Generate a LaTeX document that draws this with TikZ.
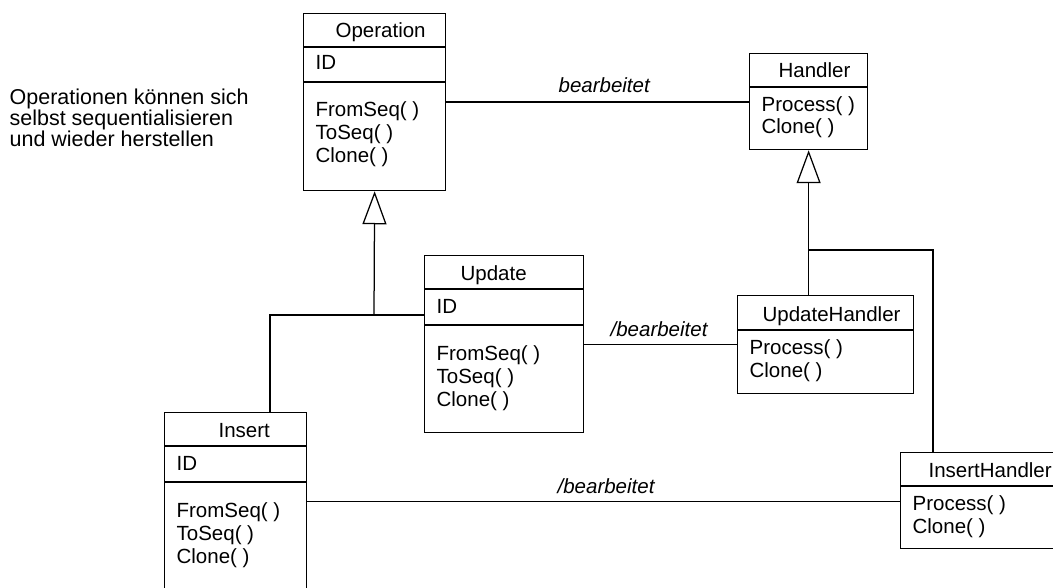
\documentclass[tikz,border=0pt]{standalone}
\usepackage{fontspec}
\setmainfont{Liberation Sans}
\usetikzlibrary{arrows.meta}

\begin{document}
\begin{tikzpicture}[x=1pt,y=-1pt,
  line width=1.25pt,
  cls/.style={draw, anchor=north west, inner sep=0pt},
  txt/.style={anchor=base west, inner sep=0pt, font=\fontsize{20.5}{23}\selectfont},
  note/.style={anchor=base west, inner sep=0pt, font=\fontsize{21.5}{23}\selectfont},
  lbl/.style={txt, font=\fontsize{20.5}{23}\selectfont\itshape},
  gen/.style={-{Triangle[open, length=33pt, width=24pt]}},
]
\useasboundingbox (0,0) rectangle (1053,588);
\clip (0,0) rectangle (1053,588);

% note
\node[note] (n1) at (9,105) {Operationen können sich};
\node[note] (n2) at (9,126) {selbst sequentialisieren};
\node[note] (n3) at (9,147) {und wieder herstellen};

% Operation
\node[cls, minimum width=142pt, minimum height=177pt] (op) at (303,13) {};
\draw (op.west |- 0,47) -- (op.east |- 0,47);
\draw (op.west |- 0,82) -- (op.east |- 0,82);
\node[txt] (op-t) at (335,38) {Operation};
\node[txt] (op-a) at (315,70) {ID};
\node[txt] (op-m1) at (315,117) {FromSeq( )};
\node[txt] (op-m2) at (315,140) {ToSeq( )};
\node[txt] (op-m3) at (315,163) {Clone( )};

% Handler
\node[cls, minimum width=118pt, minimum height=96pt] (hd) at (749,53) {};
\draw (hd.west |- 0,87) -- (hd.east |- 0,87);
\node[txt] (hd-t) at (778,78) {Handler};
\node[txt] (hd-m1) at (761,112) {Process( )};
\node[txt] (hd-m2) at (761,134) {Clone( )};

% Update
\node[cls, minimum width=159pt, minimum height=177pt] (up) at (424,255) {};
\draw (up.west |- 0,289) -- (up.east |- 0,289);
\draw (up.west |- 0,325) -- (up.east |- 0,325);
\node[txt] (up-t) at (460,281) {Update};
\node[txt] (up-a) at (436,313) {ID};
\node[txt] (up-m1) at (436,360) {FromSeq( )};
\node[txt] (up-m2) at (436,383) {ToSeq( )};
\node[txt] (up-m3) at (436,406) {Clone( )};

% Insert
\node[cls, minimum width=142pt, minimum height=178pt] (in) at (164,412) {};
\draw (in.west |- 0,446) -- (in.east |- 0,446);
\draw (in.west |- 0,482) -- (in.east |- 0,482);
\node[txt] (in-t) at (218,437) {Insert};
\node[txt] (in-a) at (176,470) {ID};
\node[txt] (in-m1) at (176,517) {FromSeq( )};
\node[txt] (in-m2) at (176,540) {ToSeq( )};
\node[txt] (in-m3) at (176,563) {Clone( )};

% UpdateHandler
\node[cls, minimum width=176pt, minimum height=98pt] (uh) at (737,295) {};
\draw (uh.west |- 0,330) -- (uh.east |- 0,330);
\node[txt] (uh-t) at (762,322) {UpdateHandler};
\node[txt] (uh-m1) at (749,355) {Process( )};
\node[txt] (uh-m2) at (749,377) {Clone( )};

% InsertHandler
\node[cls, minimum width=170pt, minimum height=96pt] (ih) at (900,452) {};
\draw (ih.west |- 0,486) -- (ih.east |- 0,486);
\node[txt] (ih-t) at (928,477) {InsertHandler};
\node[txt] (ih-m1) at (912,510) {Process( )};
\node[txt] (ih-m2) at (912,533) {Clone( )};

% associations
\draw (op.east) -- (op.east -| hd.west);
\node[lbl] (a1) at (558,93) {bearbeitet};
\draw (up.east) -- (up.east -| uh.west);
\node[lbl] (a2) at (610,337) {/bearbeitet};
\draw (in.east) -- (in.east -| ih.west);
\node[lbl] (a3) at (557,493) {/bearbeitet};

% generalisation: Operation
\coordinate (g1) at (374,315);
\coordinate (g1l) at (270,315);
\draw[gen] (g1) -- (op.south);
\draw (in.north -| g1l) -- (g1l) -- (up.west |- g1l);

% generalisation: Handler
\coordinate (g2) at (808,250);
\coordinate (g2r) at (933,250);
\draw[gen] (uh.north -| hd.south) -- (hd.south);
\draw (g2) -- (g2r) -- (ih.north -| g2r);
\end{tikzpicture}
\end{document}
